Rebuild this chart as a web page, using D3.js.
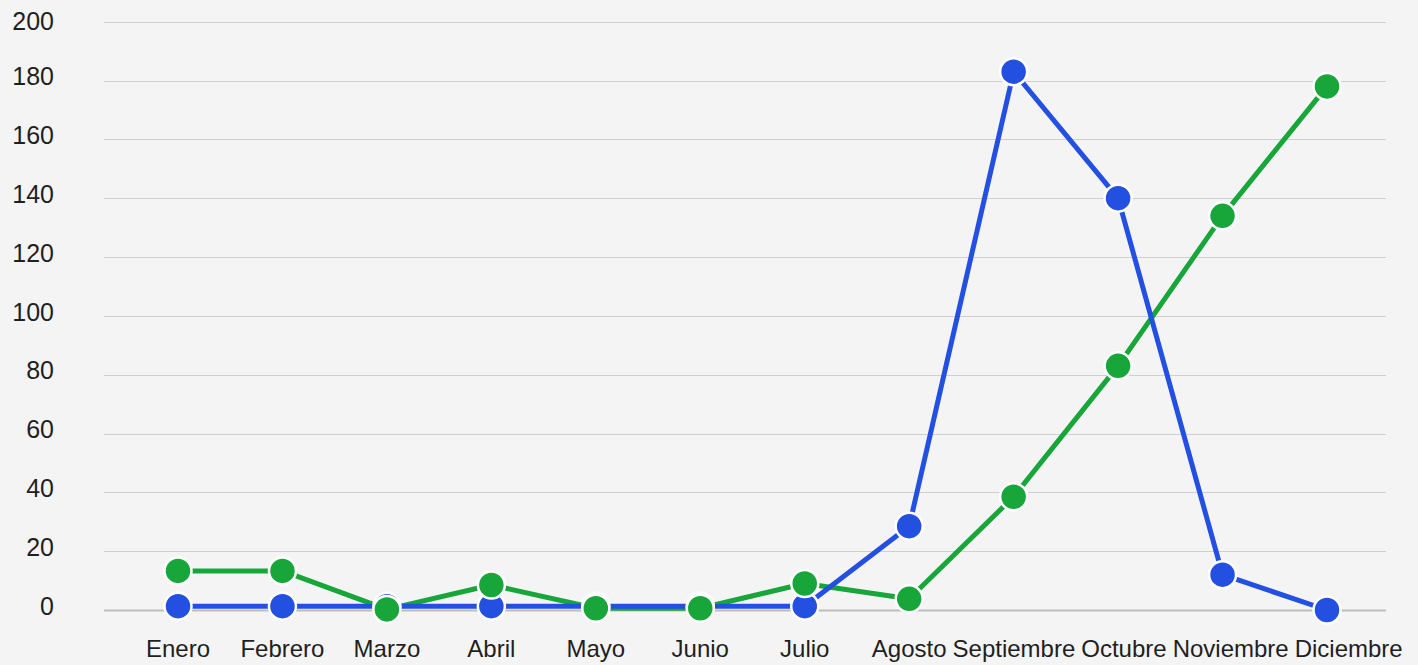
<!DOCTYPE html>
<html>
<head>
<meta charset="utf-8">
<script src="https://cdn.jsdelivr.net/npm/d3@7"></script>
<style>
  html, body { margin: 0; padding: 0; background: #f4f4f4; }
  svg { display: block; }
</style>
</head>
<body>
<div id="chart"></div>
<script>
// months on the x axis
var months = ["Enero", "Febrero", "Marzo", "Abril", "Mayo", "Junio", "Julio",
              "Agosto", "Septiembre", "Octubre", "Noviembre", "Diciembre"];

// series values
var blueValues = [1.3, 1.3, 1.3, 1.3, 1.3, 1.3, 1.3, 28.5, 183, 140, 12, 0];
var greenValues = [13.3, 13.3, 0.2, 8.5, 0.6, 0.6, 9, 3.8, 38.5, 83, 134, 178];

var yTicks = [0, 20, 40, 60, 80, 100, 120, 140, 160, 180, 200];

var width = 1418, height = 665;

var svg = d3.select("#chart")
    .append("svg")
    .attr("width", width)
    .attr("height", height);

// y scale: 0 sits on the baseline, 200 on the top grid line
var y = d3.scaleLinear()
    .domain([0, 200])
    .range([610, 21.7]);

// x scale for the points, grid spans a bit wider
var x = d3.scalePoint()
    .domain(months)
    .range([178, 1327]);
var gridLeft = 104, gridRight = 1386;

// grid lines
svg.append("g")
    .selectAll("line")
    .data(yTicks)
    .enter()
    .append("line")
    .attr("x1", gridLeft)
    .attr("x2", gridRight)
    .attr("y1", function(d) { return Math.round(y(d)) + 0.5; })
    .attr("y2", function(d) { return Math.round(y(d)) + 0.5; })
    .attr("stroke", function(d) { return d === 0 ? "#bdbdbd" : "#cfcfcf"; })
    .attr("stroke-width", function(d) { return d === 0 ? 2 : 1; });

// y labels
svg.append("g")
    .selectAll("text")
    .data(yTicks)
    .enter()
    .append("text")
    .attr("x", 54)
    .attr("y", function(d) { return y(d) - (d === 200 ? 0 : 4); })
    .attr("dy", "0.35em")
    .attr("text-anchor", "end")
    .attr("font-family", "'Liberation Sans', Arial, sans-serif")
    .attr("font-size", 25)
    .attr("fill", "#1f1f1f")
    .text(function(d) { return d; });

// x labels
var xLabels = svg.append("g")
    .selectAll("text")
    .data(months)
    .enter()
    .append("text")
    .attr("x", function(d) { return x(d); })
    .attr("y", 657)
    .attr("text-anchor", "middle")
    .attr("font-family", "'Liberation Sans', Arial, sans-serif")
    .attr("font-size", 24)
    .attr("fill", "#1f1f1f")
    .text(function(d) { return d; });

// push labels right when they would run into the previous one
var prevRight = -Infinity;
xLabels.each(function(d) {
    var w = this.getComputedTextLength();
    var cx = x(d);
    if (cx - w / 2 < prevRight + 6) {
        cx = prevRight + 6 + w / 2;
        d3.select(this).attr("x", cx);
    }
    prevRight = cx + w / 2;
});

var series = [
    { name: "green", color: "#18a63b", values: greenValues },
    { name: "blue", color: "#2350e0", values: blueValues }
];

var line = d3.line()
    .x(function(d, i) { return x(months[i]); })
    .y(function(d) { return y(d); });

// lines first
series.forEach(function(s) {
    svg.append("path")
        .datum(s.values)
        .attr("fill", "none")
        .attr("stroke", s.color)
        .attr("stroke-width", 5)
        .attr("stroke-linejoin", "round")
        .attr("d", line);
});

// then the dots, blue under green
series.slice().reverse().forEach(function(s) {
    svg.append("g")
        .selectAll("circle")
        .data(s.values)
        .enter()
        .append("circle")
        .attr("cx", function(d, i) { return x(months[i]); })
        .attr("cy", function(d) { return y(d); })
        .attr("r", 13.5)
        .attr("fill", s.color)
        .attr("stroke", "#ffffff")
        .attr("stroke-width", 2.5);
});
</script>
</body>
</html>
